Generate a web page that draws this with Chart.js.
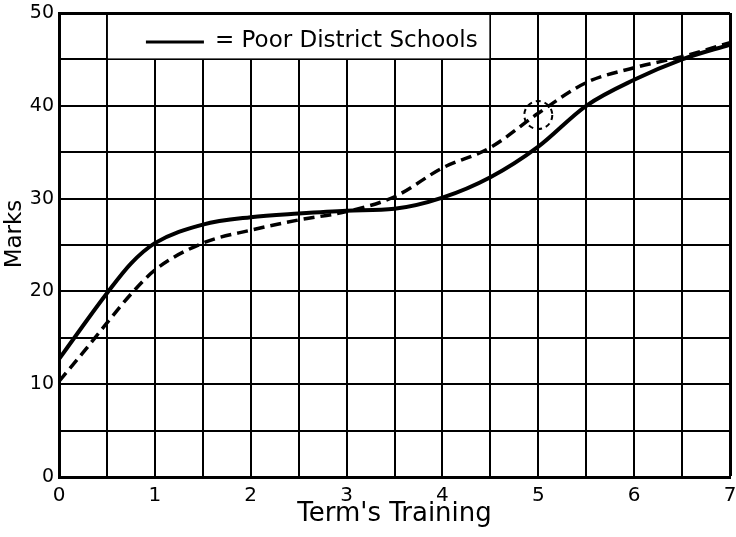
<!DOCTYPE html>
<html>
<head>
<meta charset="utf-8">
<script src="https://cdn.jsdelivr.net/npm/chart.js@4/dist/chart.umd.min.js"></script>
<style>
  html, body { margin: 0; padding: 0; background: #fff; }
  .wrap { position: relative; width: 736px; height: 537px; }
</style>
</head>
<body>
<div class="wrap"><canvas id="marksChart"></canvas></div>
<script>
// values
const terms = [0, 0.25, 0.5, 0.75, 1, 1.5, 2, 2.5, 3, 3.5, 4, 4.5, 5, 5.5, 6, 6.5, 7];
const poorSchools = [12.7, 16.3, 19.8, 23.0, 25.2, 27.2, 28.0, 28.4, 28.7, 28.9, 30.1, 32.3, 35.6, 40.0, 42.8, 45.0, 46.6];
const otherSchools = [10.3, 13.4, 16.6, 19.7, 22.3, 25.2, 26.6, 27.7, 28.6, 30.2, 33.3, 35.5, 39.2, 42.5, 44.1, 45.3, 46.8];
const xLabels = [0, 1, 2, 3, 4, 5, 6, 7];
const yLabels = [0, 10, 20, 30, 40, 50];
const legendText = "= Poor District Schools";
const circled = { x: 5, y: 39 };

const FONT = "DejaVu Sans, Arial, sans-serif";
const ink = "#000";

const points = (ys) => terms.map((t, i) => ({ x: t, y: ys[i] }));

// white legend box over the top band (0.5..4.5, 45..50), the circle mark, and the rotated y title
const annotations = {
  id: "annotations",
  beforeDatasetsDraw(chart) {
    const { ctx, scales: { x, y } } = chart;
    const l = x.getPixelForValue(0.5), r = x.getPixelForValue(4.5);
    const t = y.getPixelForValue(50), b = y.getPixelForValue(45);
    ctx.save();
    ctx.fillStyle = "#fff";
    ctx.fillRect(l + 1, t + 2, r - l - 2, b - t - 3);
    ctx.strokeStyle = ink;
    ctx.lineWidth = 3;
    ctx.beginPath();
    ctx.moveTo(l + 39, t + 29);
    ctx.lineTo(l + 97, t + 29);
    ctx.stroke();
    ctx.fillStyle = ink;
    ctx.font = "23px " + FONT;
    ctx.textBaseline = "alphabetic";
    ctx.fillText(legendText, l + 108, t + 34);
    ctx.restore();
  },
  afterDatasetsDraw(chart) {
    const { ctx, scales: { x, y } } = chart;
    ctx.save();
    ctx.strokeStyle = ink;
    ctx.lineWidth = 2;
    ctx.setLineDash([5, 4]);
    ctx.beginPath();
    ctx.arc(x.getPixelForValue(circled.x), y.getPixelForValue(circled.y), 14, 0, Math.PI * 2);
    ctx.stroke();
    ctx.restore();

    ctx.save();
    ctx.translate(15, 234);
    ctx.rotate(-Math.PI / 2);
    ctx.fillStyle = ink;
    ctx.font = "23px " + FONT;
    ctx.textAlign = "center";
    ctx.textBaseline = "middle";
    ctx.fillText("Marks", 0, 0);
    ctx.restore();
  }
};

new Chart(document.getElementById("marksChart"), {
  type: "line",
  data: {
    datasets: [
      {
        label: "Poor District Schools",
        data: points(poorSchools),
        borderColor: ink,
        borderWidth: 4,
        pointRadius: 0,
        cubicInterpolationMode: "monotone"
      },
      {
        label: "Other Schools",
        data: points(otherSchools),
        borderColor: ink,
        borderWidth: 3.5,
        borderDash: [11, 6],
        pointRadius: 0,
        cubicInterpolationMode: "monotone"
      }
    ]
  },
  options: {
    responsive: true,
    maintainAspectRatio: false,
    animation: false,
    layout: { autoPadding: false, padding: { top: 13, right: 6, left: 0, bottom: 0 } },
    plugins: { legend: { display: false }, tooltip: { enabled: false } },
    scales: {
      x: {
        type: "linear",
        min: 0,
        max: 7,
        afterFit: (s) => {
          s.height = 60;
          s.paddingLeft = 0;
          s.paddingRight = 0;
        },
        grid: {
          color: ink,
          lineWidth: (c) => (c.tick && c.tick.value === 7 ? 3 : 2),
          drawTicks: false
        },
        border: { color: ink, width: 3 },
        ticks: {
          stepSize: 0.5,
          autoSkip: false,
          maxRotation: 0,
          padding: 7,
          color: ink,
          font: { family: FONT, size: 20 },
          callback: (v) => (xLabels.includes(v) ? v : "")
        },
        title: {
          display: true,
          text: "Term's Training",
          color: ink,
          font: { family: FONT, size: 26 },
          padding: { top: 0, bottom: 7 }
        }
      },
      y: {
        min: 0,
        max: 50,
        afterFit: (s) => {
          s.width = 59;
          s.paddingTop = 0;
          s.paddingBottom = 0;
        },
        grid: {
          color: ink,
          lineWidth: (c) => (c.tick && c.tick.value === 50 ? 3 : 2),
          drawTicks: false
        },
        border: { color: ink, width: 3 },
        ticks: {
          stepSize: 5,
          autoSkip: false,
          padding: 5,
          color: ink,
          font: { family: FONT, size: 19 },
          callback: (v) => (yLabels.includes(v) ? v : "")
        }
      }
    }
  },
  plugins: [annotations]
});
</script>
</body>
</html>
